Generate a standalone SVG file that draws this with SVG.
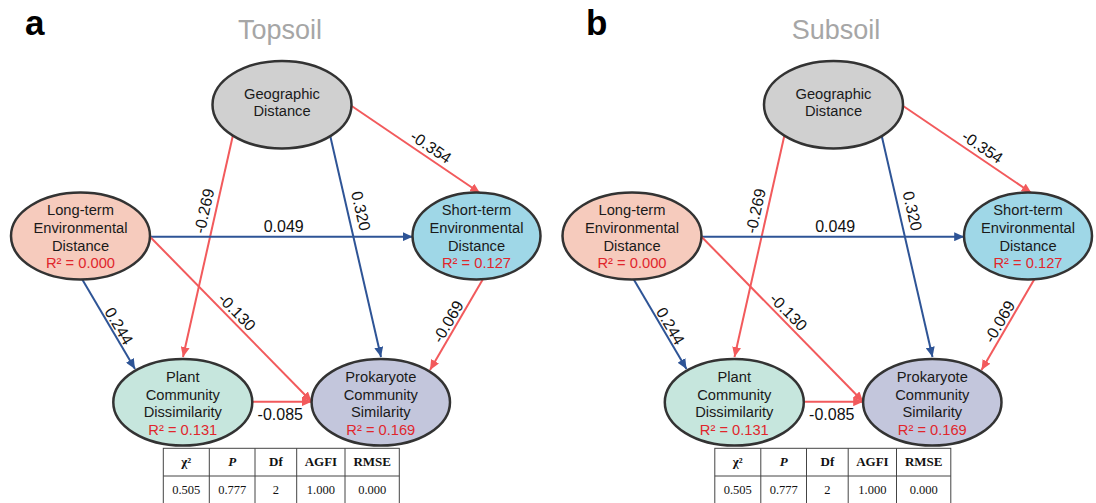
<svg xmlns="http://www.w3.org/2000/svg" width="1096" height="503" viewBox="0 0 1096 503">
<style>
.bg{fill:#fff}
.panel{font-family:"Liberation Sans",Arial,sans-serif;font-weight:bold;font-size:35px;fill:#000}
.title{font-family:"Liberation Sans",Arial,sans-serif;font-size:27px;fill:#a6a6a6;text-anchor:middle}
.node ellipse{stroke:#333;stroke-width:2.5}
.nt{font-family:"Liberation Sans",Arial,sans-serif;font-size:14.7px;fill:#1a1a1a;text-anchor:middle}
.r2{fill:#e0262c}
.lbl{font-family:"Liberation Sans",Arial,sans-serif;font-size:16px;fill:#111;text-anchor:middle}
.red{stroke:#f25a5c;stroke-width:2;fill:none;marker-end:url(#arR)}
.blue{stroke:#2e5496;stroke-width:2;fill:none;marker-end:url(#arB)}
.tb{stroke:#444;stroke-width:1;fill:#fff}
.tl{stroke:#444;stroke-width:1}
.th{font-family:"Liberation Serif","Times New Roman",serif;font-size:13px;font-weight:bold;fill:#111;text-anchor:middle}
.tv{font-family:"Liberation Serif","Times New Roman",serif;font-size:12.5px;fill:#111;text-anchor:middle}
</style>
<defs>
<marker id="arR" markerUnits="userSpaceOnUse" markerWidth="11" markerHeight="9" refX="10" refY="4.5" orient="auto"><path d="M0,0 L10,4.5 L0,9 z" fill="#f25a5c"/></marker>
<marker id="arB" markerUnits="userSpaceOnUse" markerWidth="11" markerHeight="9" refX="10" refY="4.5" orient="auto"><path d="M0,0 L10,4.5 L0,9 z" fill="#2e5496"/></marker>
</defs>
<rect class="bg" x="0" y="0" width="1096" height="503"/>
<text class="panel" x="25" y="35">a</text>
<text class="title" x="280" y="39">Topsoil</text>
<text class="panel" x="586" y="35">b</text>
<text class="title" x="836" y="39">Subsoil</text>

<g id="panel-a">
<g id="a-connectors">
<line class="red" x1="351.7" y1="106" x2="480" y2="193"/>
<line class="red" x1="233" y1="135" x2="183" y2="357"/>
<line class="blue" x1="330" y1="135" x2="381" y2="357"/>
<line class="blue" x1="150" y1="236.7" x2="412.7" y2="236.7"/>
<line class="blue" x1="82" y1="279" x2="135" y2="369"/>
<line class="red" x1="150" y1="236.7" x2="311.7" y2="401.7"/>
<line class="red" x1="483" y1="279" x2="430" y2="370"/>
<line class="red" x1="252.3" y1="401.7" x2="311.7" y2="401.7"/>
<text class="lbl" dy="0.35em" transform="translate(431,147) rotate(34.1)">-0.354</text>
<text class="lbl" dy="0.35em" transform="translate(204,211) rotate(-77.3)">-0.269</text>
<text class="lbl" dy="0.35em" transform="translate(361,211) rotate(77)">0.320</text>
<text class="lbl" x="283.7" y="232.3">0.049</text>
<text class="lbl" dy="0.35em" transform="translate(119,326) rotate(59.5)">0.244</text>
<text class="lbl" dy="0.35em" transform="translate(237,312) rotate(45.6)">-0.130</text>
<text class="lbl" dy="0.35em" transform="translate(448,321.7) rotate(-59.8)">-0.069</text>
<text class="lbl" x="280.3" y="420">-0.085</text>
</g>
<g id="a-geo" class="node">
<ellipse cx="282" cy="104.7" rx="69.5" ry="43.7" fill="#d0d0d0"/>
<text class="nt" x="282" y="99.3">Geographic</text>
<text class="nt" x="282" y="116">Distance</text>
</g>
<g id="a-long" class="node">
<ellipse cx="80.5" cy="236" rx="69.5" ry="43.5" fill="#f6cbbd"/>
<text class="nt" x="80.5" y="215">Long-term</text>
<text class="nt" x="80.5" y="233">Environmental</text>
<text class="nt" x="80.5" y="250.5">Distance</text>
<text class="nt r2" x="80.5" y="268">R² = 0.000</text>
</g>
<g id="a-short" class="node">
<ellipse cx="476.5" cy="236" rx="64" ry="43.5" fill="#9fd7e7"/>
<text class="nt" x="476.5" y="215">Short-term</text>
<text class="nt" x="476.5" y="233">Environmental</text>
<text class="nt" x="476.5" y="250.5">Distance</text>
<text class="nt r2" x="476.5" y="268">R² = 0.127</text>
</g>
<g id="a-plant" class="node">
<ellipse cx="182.8" cy="402.3" rx="69.5" ry="43.3" fill="#c6e6dd"/>
<text class="nt" x="182.8" y="382">Plant</text>
<text class="nt" x="182.8" y="399.8">Community</text>
<text class="nt" x="182.8" y="417.3">Dissimilarity</text>
<text class="nt r2" x="182.8" y="435">R² = 0.131</text>
</g>
<g id="a-prok" class="node">
<ellipse cx="380.8" cy="402.3" rx="69.2" ry="43.3" fill="#c3c6dc"/>
<text class="nt" x="380.8" y="382">Prokaryote</text>
<text class="nt" x="380.8" y="399.8">Community</text>
<text class="nt" x="380.8" y="417.3">Similarity</text>
<text class="nt r2" x="380.8" y="435">R² = 0.169</text>
</g>
<g id="a-table">
<rect class="tb" x="163.3" y="448.3" width="236" height="56"/>
<line class="tl" x1="163.3" y1="476" x2="399.3" y2="476"/>
<line class="tl" x1="209.3" y1="448.3" x2="209.3" y2="504.3"/>
<line class="tl" x1="255" y1="448.3" x2="255" y2="504.3"/>
<line class="tl" x1="296.7" y1="448.3" x2="296.7" y2="504.3"/>
<line class="tl" x1="345" y1="448.3" x2="345" y2="504.3"/>
<text class="th" x="186.3" y="466">χ²</text>
<text class="th" x="232.2" y="466" font-style="italic">P</text>
<text class="th" x="275.9" y="466">Df</text>
<text class="th" x="320.9" y="466">AGFI</text>
<text class="th" x="372.2" y="466">RMSE</text>
<text class="tv" x="186.3" y="494">0.505</text>
<text class="tv" x="232.2" y="494">0.777</text>
<text class="tv" x="275.9" y="494">2</text>
<text class="tv" x="320.9" y="494">1.000</text>
<text class="tv" x="372.2" y="494">0.000</text>
</g>
</g>

<g id="panel-b" transform="translate(551.5,0)">
<g id="b-connectors">
<line class="red" x1="351.7" y1="106" x2="480" y2="193"/>
<line class="red" x1="233" y1="135" x2="183" y2="357"/>
<line class="blue" x1="330" y1="135" x2="381" y2="357"/>
<line class="blue" x1="150" y1="236.7" x2="412.7" y2="236.7"/>
<line class="blue" x1="82" y1="279" x2="135" y2="369"/>
<line class="red" x1="150" y1="236.7" x2="311.7" y2="401.7"/>
<line class="red" x1="483" y1="279" x2="430" y2="370"/>
<line class="red" x1="252.3" y1="401.7" x2="311.7" y2="401.7"/>
<text class="lbl" dy="0.35em" transform="translate(431,147) rotate(34.1)">-0.354</text>
<text class="lbl" dy="0.35em" transform="translate(204,211) rotate(-77.3)">-0.269</text>
<text class="lbl" dy="0.35em" transform="translate(361,211) rotate(77)">0.320</text>
<text class="lbl" x="283.7" y="232.3">0.049</text>
<text class="lbl" dy="0.35em" transform="translate(119,326) rotate(59.5)">0.244</text>
<text class="lbl" dy="0.35em" transform="translate(237,312) rotate(45.6)">-0.130</text>
<text class="lbl" dy="0.35em" transform="translate(448,321.7) rotate(-59.8)">-0.069</text>
<text class="lbl" x="280.3" y="420">-0.085</text>
</g>
<g id="b-geo" class="node">
<ellipse cx="282" cy="104.7" rx="69.5" ry="43.7" fill="#d0d0d0"/>
<text class="nt" x="282" y="99.3">Geographic</text>
<text class="nt" x="282" y="116">Distance</text>
</g>
<g id="b-long" class="node">
<ellipse cx="80.5" cy="236" rx="69.5" ry="43.5" fill="#f6cbbd"/>
<text class="nt" x="80.5" y="215">Long-term</text>
<text class="nt" x="80.5" y="233">Environmental</text>
<text class="nt" x="80.5" y="250.5">Distance</text>
<text class="nt r2" x="80.5" y="268">R² = 0.000</text>
</g>
<g id="b-short" class="node">
<ellipse cx="476.5" cy="236" rx="64" ry="43.5" fill="#9fd7e7"/>
<text class="nt" x="476.5" y="215">Short-term</text>
<text class="nt" x="476.5" y="233">Environmental</text>
<text class="nt" x="476.5" y="250.5">Distance</text>
<text class="nt r2" x="476.5" y="268">R² = 0.127</text>
</g>
<g id="b-plant" class="node">
<ellipse cx="182.8" cy="402.3" rx="69.5" ry="43.3" fill="#c6e6dd"/>
<text class="nt" x="182.8" y="382">Plant</text>
<text class="nt" x="182.8" y="399.8">Community</text>
<text class="nt" x="182.8" y="417.3">Dissimilarity</text>
<text class="nt r2" x="182.8" y="435">R² = 0.131</text>
</g>
<g id="b-prok" class="node">
<ellipse cx="380.8" cy="402.3" rx="69.2" ry="43.3" fill="#c3c6dc"/>
<text class="nt" x="380.8" y="382">Prokaryote</text>
<text class="nt" x="380.8" y="399.8">Community</text>
<text class="nt" x="380.8" y="417.3">Similarity</text>
<text class="nt r2" x="380.8" y="435">R² = 0.169</text>
</g>
<g id="b-table">
<rect class="tb" x="163.3" y="448.3" width="236" height="56"/>
<line class="tl" x1="163.3" y1="476" x2="399.3" y2="476"/>
<line class="tl" x1="209.3" y1="448.3" x2="209.3" y2="504.3"/>
<line class="tl" x1="255" y1="448.3" x2="255" y2="504.3"/>
<line class="tl" x1="296.7" y1="448.3" x2="296.7" y2="504.3"/>
<line class="tl" x1="345" y1="448.3" x2="345" y2="504.3"/>
<text class="th" x="186.3" y="466">χ²</text>
<text class="th" x="232.2" y="466" font-style="italic">P</text>
<text class="th" x="275.9" y="466">Df</text>
<text class="th" x="320.9" y="466">AGFI</text>
<text class="th" x="372.2" y="466">RMSE</text>
<text class="tv" x="186.3" y="494">0.505</text>
<text class="tv" x="232.2" y="494">0.777</text>
<text class="tv" x="275.9" y="494">2</text>
<text class="tv" x="320.9" y="494">1.000</text>
<text class="tv" x="372.2" y="494">0.000</text>
</g>
</g>
</svg>
